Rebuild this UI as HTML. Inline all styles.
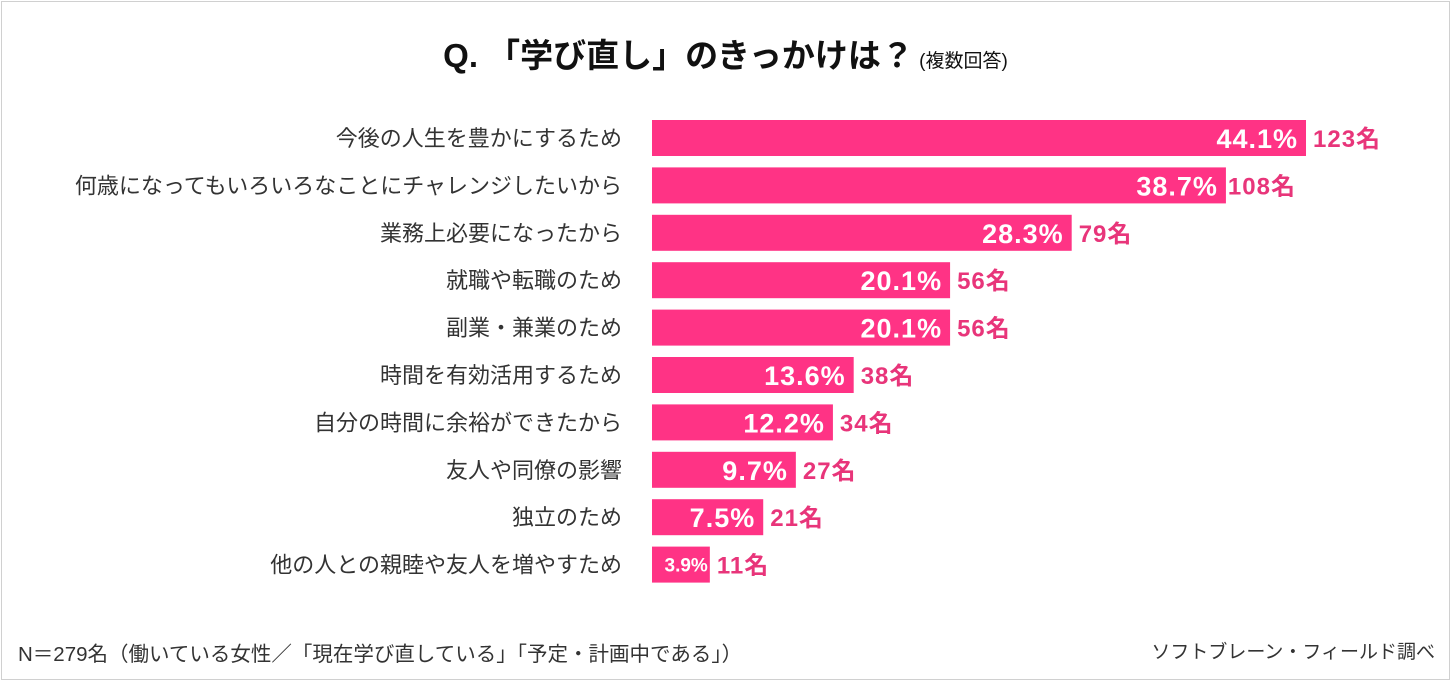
<!DOCTYPE html>
<html><head><meta charset="utf-8">
<style>
body{margin:0;background:#fff;}
#wrap{position:relative;width:1451px;height:681px;overflow:hidden;font-family:"Liberation Sans","Noto Sans CJK JP",sans-serif;}
#frame{position:absolute;left:1px;top:1px;width:1447px;height:677px;border:1px solid #d0d0d0;}
#title{position:absolute;left:0;width:1451px;top:29px;text-align:center;font-size:33px;font-weight:bold;color:#111;}
#title small{font-size:19px;font-weight:normal;}
.foot{position:absolute;top:637px;font-size:20.5px;color:#333;}
</style></head><body>
<div id="wrap">
<div id="frame"></div>
<div id="title">Q. 「学び直し」のきっかけは？<small> (複数回答)</small></div>
<svg id="svg" width="1451" height="681" style="position:absolute;left:0;top:0"></svg>
<div class="foot" style="left:18px">N＝279名（働いている女性／「現在学び直している」「予定・計画中である」）</div>
<div class="foot" style="right:16px;font-size:19px">ソフトブレーン・フィールド調べ</div>
</div>
<script>
const categories=["今後の人生を豊かにするため","何歳になってもいろいろなことにチャレンジしたいから","業務上必要になったから","就職や転職のため","副業・兼業のため","時間を有効活用するため","自分の時間に余裕ができたから","友人や同僚の影響","独立のため","他の人との親睦や友人を増やすため"];
const percents=[44.1,38.7,28.3,20.1,20.1,13.6,12.2,9.7,7.5,3.9];
const counts=[123,108,79,56,56,38,34,27,21,11];
const NS="http://www.w3.org/2000/svg";
const svg=document.getElementById('svg');
const x0=652, pxPer=14.83, y0=120, pitch=47.4, bh=36;
function xs(v){return x0+v*pxPer;}
function ys(i){return y0+i*pitch;}
function mk(t,a){const e=document.createElementNS(NS,t);for(const k in a)e.setAttribute(k,a[k]);svg.appendChild(e);return e;}
categories.forEach((c,i)=>{
  const y=ys(i), w=xs(percents[i])-x0, cy=y+bh/2;
  const lab=mk('text',{x:622,y:cy+8,'text-anchor':'end','font-size':22,fill:'#333'});
  lab.textContent=c;
  
  
  const r=mk('rect',{x:x0,y:y,width:w,height:bh,fill:'#ff3385'});
  
  
  const small=percents[i]<5;
  const p=mk('text',{x:xs(percents[i])-(small?2:8),y:cy+(small?7:10),'text-anchor':'end','font-size':small?19:27,'font-weight':'bold',fill:'#fff','letter-spacing':small?0:1});
  p.textContent=percents[i].toFixed(1)+'%';
  
  
  const n=mk('text',{x:xs(percents[i])+(i==1?2:7),y:cy+9,'font-size':24,'font-weight':'bold',fill:'#e8357a','letter-spacing':1});
  n.textContent=counts[i]+'名';
  
  
});
</script>
</body></html>
